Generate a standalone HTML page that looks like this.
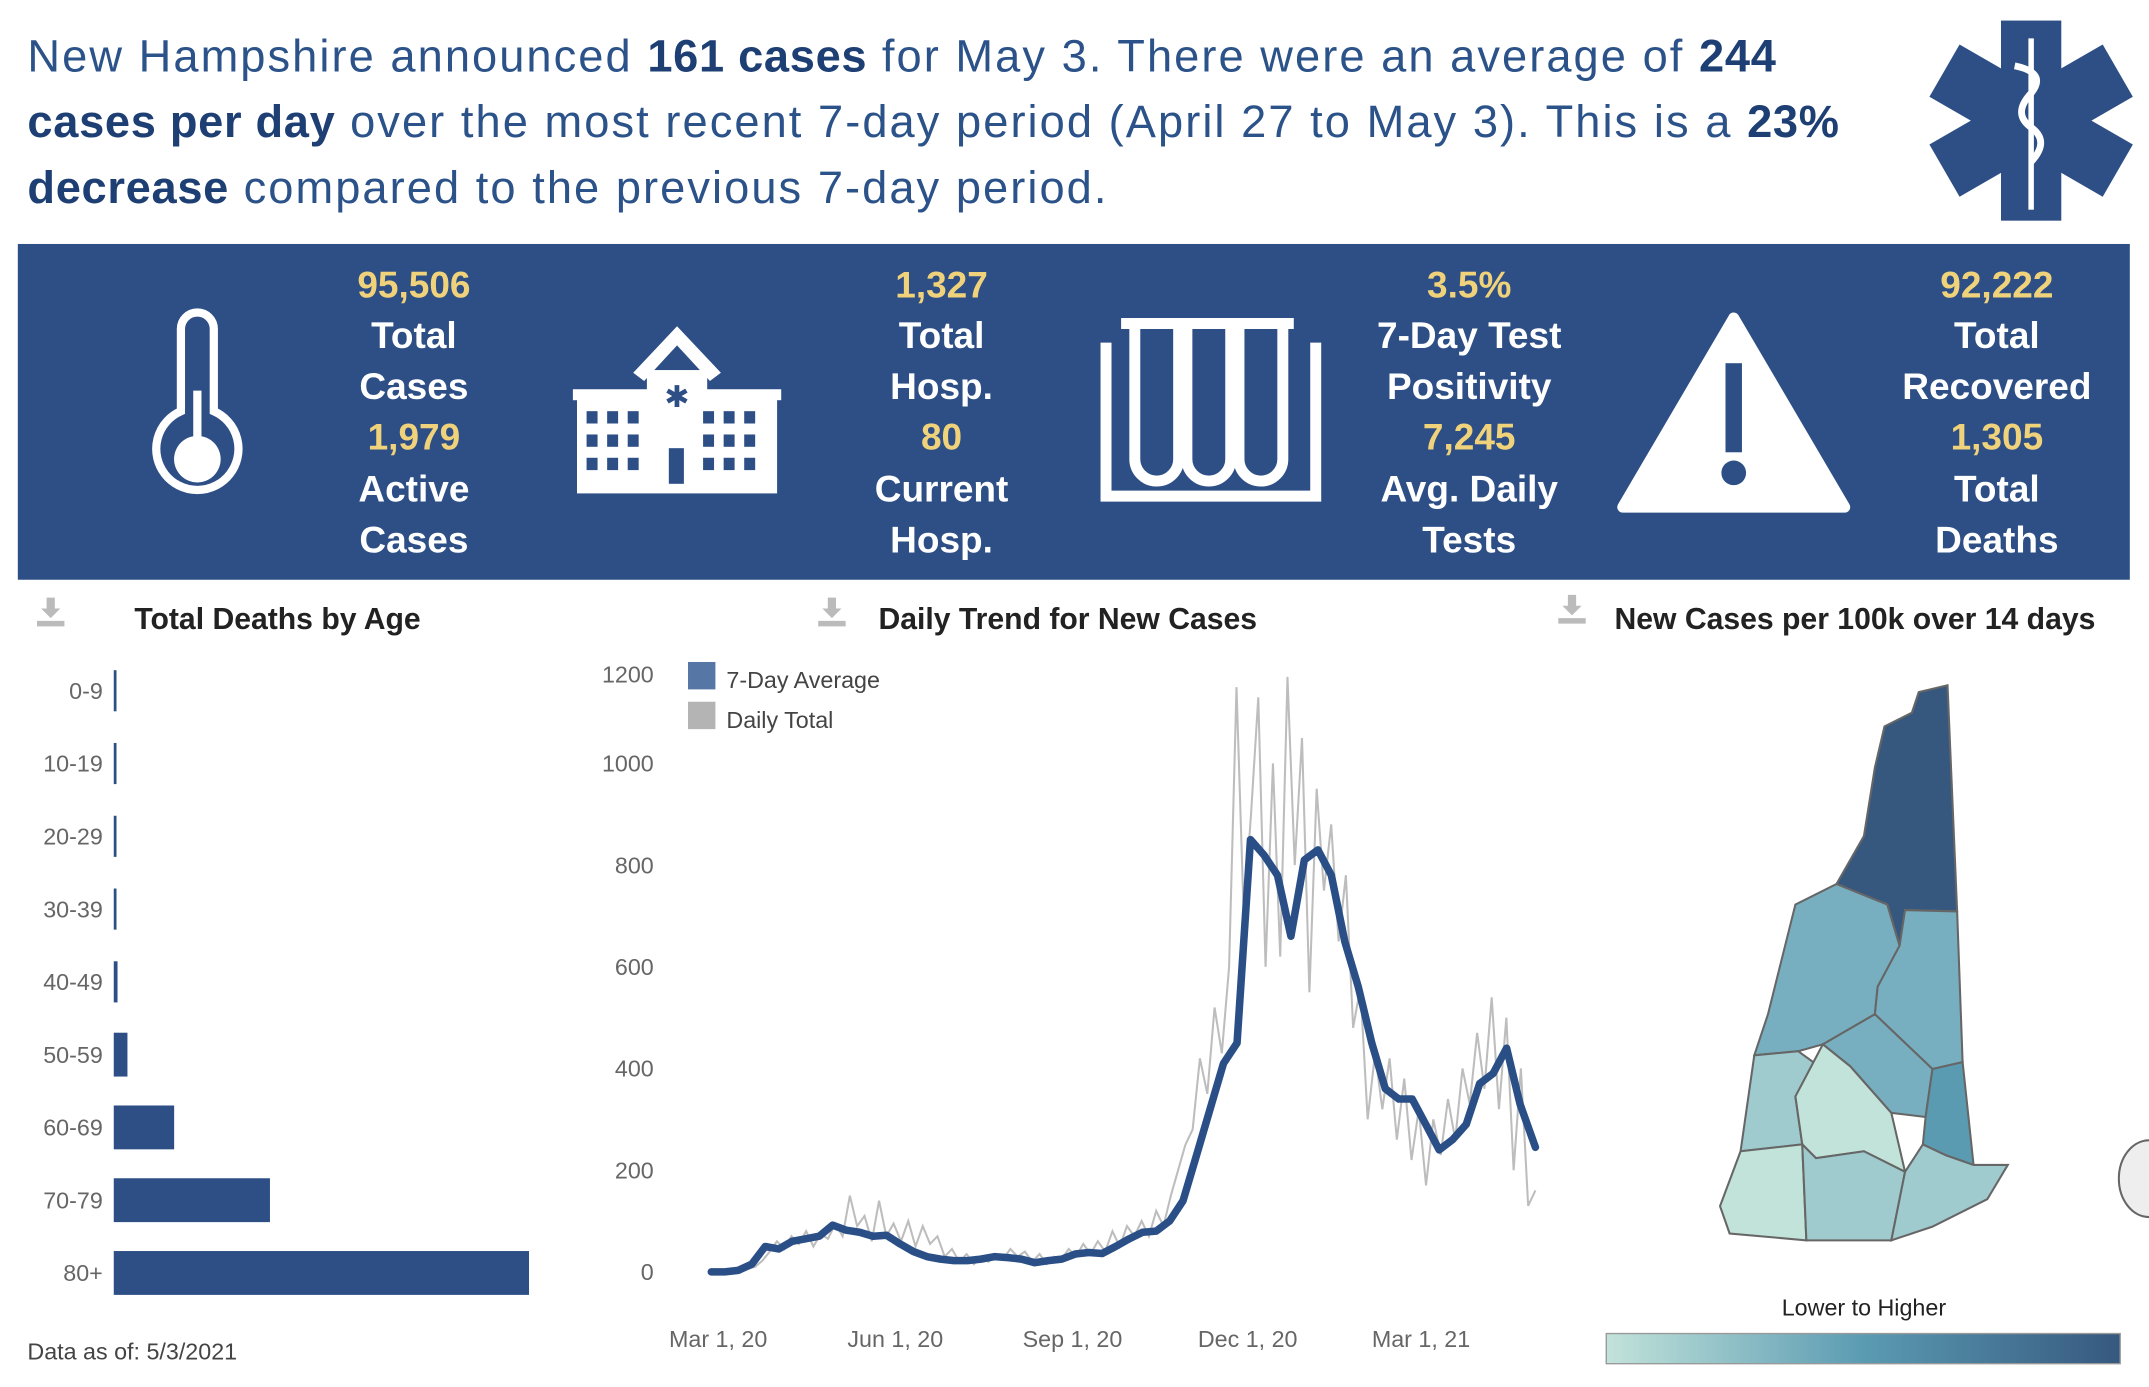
<!DOCTYPE html>
<html><head><meta charset="utf-8"><style>
html,body{margin:0;padding:0;background:#fff;}
svg{display:block;}
.hd{font-family:"Liberation Sans",sans-serif;font-size:33px;fill:#2b5289;letter-spacing:1.5px;}
.hb{font-weight:bold;fill:#1e3f73;letter-spacing:0.5px;}
.st{font-family:"Liberation Sans Narrow","Liberation Sans",sans-serif;font-weight:bold;font-size:27px;fill:#fff;text-anchor:middle;}
.y{fill:#f0d27a;}
.tt{font-family:"Liberation Sans",sans-serif;font-weight:bold;font-size:22px;fill:#222;}
.ax{font-family:"Liberation Sans",sans-serif;font-size:17px;fill:#666;}
</style></head><body>
<svg id="root" width="2149" height="1387" viewBox="0 0 1568 1012" xmlns="http://www.w3.org/2000/svg">
<text class="hd" x="20" y="52">New Hampshire announced <tspan class="hb">161 cases</tspan> for May 3. There were an average of <tspan class="hb">244</tspan></text>
<text class="hd" x="20" y="100"><tspan class="hb">cases per day</tspan> over the most recent 7-day period (April 27 to May 3). This is a <tspan class="hb">23%</tspan></text>
<text class="hd" x="20" y="148"><tspan class="hb">decrease</tspan> compared to the previous 7-day period.</text>

<g transform="translate(1482,88)" fill="#2d4f86">
<rect x="-22" y="-73" width="44" height="146"/>
<rect x="-22" y="-73" width="44" height="146" transform="rotate(60)"/>
<rect x="-22" y="-73" width="44" height="146" transform="rotate(-60)"/>
<rect x="-2" y="-60" width="4" height="125" fill="#fff"/>
<path d="M-12,-40 Q12,-35 0,-20 Q-14,-5 0,5 Q14,15 0,30" stroke="#fff" stroke-width="5" fill="none"/>
</g>

<rect x="13" y="178" width="1541" height="245" fill="#2d4f86"/>
<g fill="none" stroke="#fff" stroke-width="6">
<path d="M132,300 V240 a12,12 0 0 1 24,0 V300 a30,30 0 1 1 -24,0 Z"/><circle cx="144" cy="335" r="17" fill="#fff" stroke="none"/><line x1="144" y1="285" x2="144" y2="320"/>
</g>
<g fill="#fff">
<path d="M462,272 L494,238 L526,272 L518,278 L494,252 L470,278Z"/>
<rect x="472" y="270" width="44" height="20"/>
<rect x="418" y="284" width="152" height="8"/><rect x="421" y="290" width="146" height="70"/>
<g fill="#2d4f86"><rect x="428" y="300" width="8" height="9"/><rect x="443" y="300" width="8" height="9"/><rect x="458" y="300" width="8" height="9"/><rect x="513" y="300" width="8" height="9"/><rect x="528" y="300" width="8" height="9"/><rect x="543" y="300" width="8" height="9"/><rect x="428" y="317" width="8" height="9"/><rect x="443" y="317" width="8" height="9"/><rect x="458" y="317" width="8" height="9"/><rect x="513" y="317" width="8" height="9"/><rect x="528" y="317" width="8" height="9"/><rect x="543" y="317" width="8" height="9"/><rect x="428" y="334" width="8" height="9"/><rect x="443" y="334" width="8" height="9"/><rect x="458" y="334" width="8" height="9"/><rect x="513" y="334" width="8" height="9"/><rect x="528" y="334" width="8" height="9"/><rect x="543" y="334" width="8" height="9"/><rect x="488" y="327" width="11" height="26"/><text x="494" y="297" font-size="22" text-anchor="middle" font-family="Liberation Sans">✱</text></g>
</g>
<g fill="none" stroke="#fff" stroke-width="8">
<path d="M828,238 V335 a16,16 0 0 0 32,0 V238 M866,238 V335 a16,16 0 0 0 32,0 V238 M904,238 V335 a16,16 0 0 0 32,0 V238"/>
<line x1="818" y1="236" x2="944" y2="236"/><path d="M807,250 V362 H960 V250"/>
</g>
<g>
<path d="M1265,232 L1346,370 H1184 Z" fill="#fff" stroke="#fff" stroke-width="8" stroke-linejoin="round"/>
<rect x="1259" y="265" width="12" height="65" fill="#2d4f86"/><circle cx="1265" cy="345" r="9" fill="#2d4f86"/>
</g>
<g>
<text class="st y" x="302" y="217">95,506</text><text class="st" x="302" y="254">Total</text><text class="st" x="302" y="291">Cases</text><text class="st y" x="302" y="328">1,979</text><text class="st" x="302" y="366">Active</text><text class="st" x="302" y="403">Cases</text></g>
<g>
<text class="st y" x="687" y="217">1,327</text><text class="st" x="687" y="254">Total</text><text class="st" x="687" y="291">Hosp.</text><text class="st y" x="687" y="328">80</text><text class="st" x="687" y="366">Current</text><text class="st" x="687" y="403">Hosp.</text></g>
<g>
<text class="st y" x="1072" y="217">3.5%</text><text class="st" x="1072" y="254">7-Day Test</text><text class="st" x="1072" y="291">Positivity</text><text class="st y" x="1072" y="328">7,245</text><text class="st" x="1072" y="366">Avg. Daily</text><text class="st" x="1072" y="403">Tests</text></g>
<g>
<text class="st y" x="1457" y="217">92,222</text><text class="st" x="1457" y="254">Total</text><text class="st" x="1457" y="291">Recovered</text><text class="st y" x="1457" y="328">1,305</text><text class="st" x="1457" y="366">Total</text><text class="st" x="1457" y="403">Deaths</text></g>

<g fill="#bbb">
<path d="M34,436 h6 v8 h4 l-7,7 l-7,-7 h4z M27,453 h20 v4 h-20z"/>
<path d="M604,436 h6 v8 h4 l-7,7 l-7,-7 h4z M597,453 h20 v4 h-20z"/>
<path d="M1144,434 h6 v8 h4 l-7,7 l-7,-7 h4z M1137,451 h20 v4 h-20z"/>
</g>
<text class="tt" x="98" y="459">Total Deaths by Age</text>
<text class="tt" x="641" y="459">Daily Trend for New Cases</text>
<text class="tt" x="1178" y="459">New Cases per 100k over 14 days</text>

<g id="bars"></g>
<text class="ax" x="20" y="992" style="fill:#444">Data as of: 5/3/2021</text>

<g id="trend"></g>
<g>
<rect x="502" y="483" width="20" height="20" fill="#5676a6"/>
<text class="ax" x="530" y="502" style="fill:#444">7-Day Average</text>
<rect x="502" y="512" width="20" height="20" fill="#b4b4b4"/>
<text class="ax" x="530" y="531" style="fill:#444">Daily Total</text>
</g>

<g stroke="#666" stroke-width="1.5">
<path d="M1421,500 L1428,665 L1390,664 L1386,690 L1377,660 L1340,645 L1360,610 L1368,560 L1375,530 L1395,520 L1400,505Z" fill="#36587f"/>
<path d="M1340,645 L1377,660 L1386,690 L1370,720 L1368,740 L1330,762 L1312,767 L1280,770 L1290,740 L1300,700 L1310,660Z" fill="#78afc0"/>
<path d="M1386,690 L1390,664 L1428,665 L1432,775 L1410,780 L1368,740 L1370,720Z" fill="#78afc0"/>
<path d="M1368,740 L1410,780 L1405,815 L1380,812 L1350,778 L1330,762Z" fill="#78afc0"/>
<path d="M1410,780 L1432,775 L1440,850 L1420,843 L1403,835 L1405,815Z" fill="#5b9bb2"/>
<path d="M1280,770 L1312,767 L1330,780 L1310,800 L1315,835 L1270,840Z" fill="#9fcace"/>
<path d="M1330,762 L1350,778 L1380,812 L1390,855 L1360,840 L1325,845 L1315,835 L1310,800Z" fill="#c2e3da"/>
<path d="M1270,840 L1315,835 L1318,905 L1262,900 L1255,880Z" fill="#c2e3da"/>
<path d="M1315,835 L1325,845 L1360,840 L1390,855 L1380,905 L1318,905Z" fill="#9fcace"/>
<path d="M1390,855 L1403,835 L1420,843 L1440,850 L1465,850 L1450,875 L1410,895 L1380,905Z" fill="#9fcace"/>
</g>
<text class="ax" x="1360" y="960" text-anchor="middle" style="fill:#222">Lower to Higher</text>
<defs><linearGradient id="lg"><stop offset="0" stop-color="#c2e3da"/><stop offset="0.5" stop-color="#5b9bb2"/><stop offset="1" stop-color="#36587f"/></linearGradient></defs>
<rect x="1172" y="973" width="375" height="22" fill="url(#lg)" stroke="#999"/>
<path d="M1568,832 a22,28 0 0 0 0,56" fill="#eee" stroke="#666" stroke-width="1.5"/>
</svg>
<script>
const ageCats=["0-9","10-19","20-29","30-39","40-49","50-59","60-69","70-79","80+"];
const ageDeaths=[0,0,1,3,8,29,128,331,880];
const dayOffsets=[0,7,14,21,28,35,42,49,56,63,70,77,84,91,98,105,112,119,126,133,140,147,154,161,168,175,182,189,196,203,210,217,224,231,238,245,252,259,266,273,280,287,294,301,308,315,322,329,336,343,350,357,364,371,378,385,392,399,406,413,420,428];
const avgValues=[0,0,3,15,50,45,60,65,70,92,82,78,70,72,55,40,30,25,22,22,25,30,28,25,18,22,25,35,38,36,50,65,78,80,100,140,230,320,410,450,850,820,780,660,810,830,780,650,560,450,360,340,340,290,240,260,290,370,390,440,330,245];
const dailyValues=[0,0,0,0,2,6,10,22,40,60,45,70,55,80,50,75,65,95,70,150,90,110,60,140,70,95,60,100,50,90,55,70,30,45,20,35,15,30,20,35,25,45,30,40,20,35,15,30,25,45,30,55,35,60,40,80,50,90,70,100,70,120,90,150,200,250,280,420,350,520,430,600,1150,700,900,1130,600,1000,620,1170,800,1050,550,950,750,880,650,780,480,560,300,430,320,420,260,380,220,320,170,300,230,340,260,400,330,470,360,540,320,500,200,400,130,160];
const yTicks=[0,200,400,600,800,1000,1200];
const xTickLabels=["Mar 1, 20","Jun 1, 20","Sep 1, 20","Dec 1, 20","Mar 1, 21"];
const xTickDays=[0,92,184,275,365];
const ns="http://www.w3.org/2000/svg";
function mk(tag,attrs,parent){const e=document.createElementNS(ns,tag);for(const k in attrs)e.setAttribute(k,attrs[k]);parent.appendChild(e);return e;}
const bg=document.getElementById('bars');
const bx0=83, bScale=303/880, rowY=v=>504+v*53.1;
ageCats.forEach((c,i)=>{
 const t=mk('text',{x:75,y:rowY(i)+6,'text-anchor':'end',class:'ax'},bg);t.textContent=c;
 
 
 const w=Math.max(2,ageDeaths[i]*bScale);
 const r=mk('rect',{x:bx0,y:rowY(i)-(ageDeaths[i]>20?16:15),width:w,height:ageDeaths[i]>20?32:30,fill:'#2d4f86'},bg);
 
 
});
const tg=document.getElementById('trend');
const yS=v=>928-v*0.371, xS=d=>519+d*1.405;
yTicks.forEach(v=>{
 const t=mk('text',{x:477,y:(v===1200?498:yS(v)+6),'text-anchor':'end',class:'ax'},tg);t.textContent=v;
 
 
});
xTickLabels.forEach((l,i)=>{
 const t=mk('text',{x:xS(xTickDays[i])+5,y:983,'text-anchor':'middle',class:'ax'},tg);t.textContent=l;
 
 
});
const dStep=428/(dailyValues.length-1);
const dp=dailyValues.map((v,i)=>xS(i*dStep).toFixed(1)+','+yS(v).toFixed(1)).join(' ');
const dl=mk('polyline',{points:dp,fill:'none',stroke:'#bdbdbd','stroke-width':1.5},tg);


const ap=avgValues.map((v,i)=>xS(dayOffsets[i]).toFixed(1)+','+yS(v).toFixed(1)).join(' ');
const al=mk('polyline',{points:ap,fill:'none',stroke:'#2a4f87','stroke-width':5.5,'stroke-linejoin':'round','stroke-linecap':'round'},tg);


</script>
</body></html>
